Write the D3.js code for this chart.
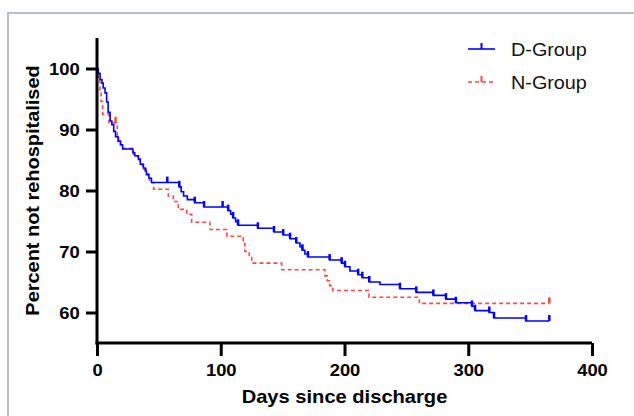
<!DOCTYPE html>
<html>
<head>
<meta charset="utf-8">
<script src="https://cdn.jsdelivr.net/npm/d3@7"></script>
<style>
  body { margin: 0; background: #fff; }
  svg { display: block; }
</style>
</head>
<body>
<div id="chart"></div>
<script>
// D-Group: day of each step and survival (%) after it
var dDays = [0, 1, 2.5, 4, 5, 6.5, 7.8, 9, 10.6, 12, 13.5, 15, 17, 19, 20.7, 29, 30.5, 33.5, 35, 37.5, 39, 40, 42, 44,
  66.5, 68, 70, 73, 79, 86.5, 106, 108, 110, 112, 114, 130, 143, 150.5, 156, 161, 164, 166, 168, 170.5,
  188, 197.7, 200.4, 204.4, 211, 214.4, 220, 228.7, 244.8, 258, 271.8, 282, 290, 303, 305.5, 317, 320.8, 346.7];
var dSurv = [100, 99.2, 98.2, 97.6, 96.8, 96, 94.5, 92.8, 91.4, 90.8, 89.7, 88.8, 88.1, 87.5, 86.8, 86.2, 85.7, 85.1, 84.3, 83.7, 83.2, 82.6, 82.0, 81.3,
  80.6, 79.8, 79.1, 78.5, 78.0, 77.3, 76.7, 76.1, 75.5, 74.9, 74.3, 73.8, 73.2, 72.7, 72.1, 71.4, 70.8, 70.2, 69.6, 69.1,
  68.6, 68.1, 67.5, 66.8, 66.2, 65.7, 65.0, 64.6, 63.9, 63.3, 62.8, 62.2, 61.6, 61.0, 60.3, 60.0, 59.1, 58.6];
var dCensor = [56.8, 66.5, 79, 86.5, 101.5, 106, 110, 114, 130, 143, 150.5, 156, 161, 166, 170.5, 188, 197.7, 200.4,
  211, 214.4, 220, 244.8, 258, 271.8, 282, 290, 303, 305.5, 317, 320.8, 346.7, 365.5];

// N-Group
var nDays = [0, 1, 2.4, 3.3, 4.5, 9.7, 16.4, 17.5, 19, 21, 29.5, 33, 35, 36.7, 38, 40, 42.5, 45.8, 57.6, 61.7, 65.7,
  72.5, 76.5, 91.3, 105, 118.2, 119.5, 123, 125, 149.2, 184.2, 186, 188, 190.5, 219.8, 260.5];
var nSurv = [100, 98.2, 96.3, 94.6, 92.5, 91.1, 88.6, 88.0, 87.5, 86.9, 85.7, 85.2, 84.6, 84.0, 83.5, 82.7, 81.3, 80.2, 79.1, 78.2, 76.9,
  76.1, 74.8, 73.6, 72.5, 71.3, 70.0, 69.0, 68.1, 67.0, 66.0, 65.2, 64.4, 63.6, 62.5, 61.5];
var nCensor = [15, 365.5];

var lastDay = 365.5;
var xTicks = [0, 100, 200, 300, 400];
var yTicks = [60, 70, 80, 90, 100];
var groups = ["D-Group", "N-Group"];

var width = 634, height = 416;
var font = "'Liberation Sans', Arial, sans-serif";

var svg = d3.select("#chart").append("svg")
  .attr("width", width)
  .attr("height", height);

// light frame round the figure
svg.append("path")
  .attr("d", "M8," + height + "V13H" + width)
  .attr("fill", "none")
  .attr("stroke", "#b4c0d0")
  .attr("stroke-width", 2);

var x = d3.scaleLinear().domain([0, 400]).range([97, 592]);
var y = d3.scaleLinear().domain([55, 105]).range([343, 38]);

// turn step arrays into point lists, extended to the last day
function steps(days, surv) {
  var pts = days.map(function (d, i) { return [d, surv[i]]; });
  pts.push([lastDay, surv[surv.length - 1]]);
  return pts;
}
function survAt(days, surv, t) {
  var v = surv[0];
  for (var i = 0; i < days.length; i++) {
    if (days[i] <= t) v = surv[i];
  }
  return v;
}

var line = d3.line()
  .x(function (d) { return x(d[0]); })
  .y(function (d) { return y(d[1]); })
  .curve(d3.curveStepAfter);

var series = [
  { name: groups[0], days: dDays, surv: dSurv, censor: dCensor, color: "#0000ff", dash: null },
  { name: groups[1], days: nDays, surv: nSurv, censor: nCensor, color: "#ff4545", dash: "4,3" }
];

// draw N first so D sits on top
series.slice().reverse().forEach(function (s) {
  svg.append("path")
    .datum(steps(s.days, s.surv))
    .attr("d", line)
    .attr("fill", "none")
    .attr("stroke", s.color)
    .attr("stroke-width", 1.6)
    .attr("stroke-dasharray", s.dash);

  svg.selectAll(null)
    .data(s.censor)
    .enter()
    .append("line")
    .attr("x1", function (d) { return x(d); })
    .attr("x2", function (d) { return x(d); })
    .attr("y1", function (d) { return y(survAt(s.days, s.surv, d)); })
    .attr("y2", function (d) { return y(survAt(s.days, s.surv, d)) - 6; })
    .attr("stroke", s.color)
    .attr("stroke-width", 2.5);
});

// axes
var xAxis = svg.append("g")
  .attr("transform", "translate(0,343)")
  .call(d3.axisBottom(x).tickValues(xTicks).tickSize(13).tickPadding(9).tickSizeOuter(0));
var yAxis = svg.append("g")
  .attr("transform", "translate(97,0)")
  .call(d3.axisLeft(y).tickValues(yTicks).tickSize(11).tickPadding(4).tickSizeOuter(0));

[xAxis, yAxis].forEach(function (g) {
  g.select(".domain").attr("stroke", "#000").attr("stroke-width", 3);
  g.selectAll(".tick line").attr("stroke", "#000").attr("stroke-width", 3);
  g.selectAll(".tick text")
    .attr("fill", "#000")
    .attr("transform", "scale(1.15,1)")   // the original text is a bit wider
    .style("font-family", font)
    .style("font-weight", "bold")
    .style("font-size", "16px");
});
yAxis.selectAll(".tick text").attr("dy", "0.36em");
yAxis.select(".domain").attr("d", "M0," + y(105) + "V" + (y(55) + 1.5));
xAxis.select(".domain").attr("d", "M" + (x(0) - 1.5) + ",0H" + x(400));

// axis titles
svg.append("text")
  .attr("transform", "translate(" + (x(0) + x(400)) / 2 + ",403) scale(1.15,1)")
  .attr("text-anchor", "middle")
  .style("font-family", font)
  .style("font-weight", "bold")
  .style("font-size", "17.5px")
  .text("Days since discharge");

svg.append("text")
  .attr("transform", "translate(39," + (y(55) + y(105)) / 2 + ") rotate(-90) scale(1.14,1)")
  .attr("text-anchor", "middle")
  .style("font-family", font)
  .style("font-weight", "bold")
  .style("font-size", "17.5px")
  .text("Percent not rehospitalised");

// legend
var legend = svg.append("g").attr("transform", "translate(468,49)");
series.forEach(function (s, i) {
  var g = legend.append("g").attr("transform", "translate(0," + (i * 33) + ")");
  g.append("line")
    .attr("x1", 0).attr("x2", 27)
    .attr("stroke", s.color)
    .attr("stroke-width", 1.6)
    .attr("stroke-dasharray", s.dash);
  g.append("line")
    .attr("x1", 13.5).attr("x2", 13.5)
    .attr("y1", 0).attr("y2", -6)
    .attr("stroke", s.color)
    .attr("stroke-width", 2);
  g.append("text")
    .attr("transform", "translate(43,7) scale(1.1,1)")
    .style("font-family", font)
    .style("font-size", "18px")
    .attr("fill", "#111")
    .text(s.name);
});
</script>
</body>
</html>
